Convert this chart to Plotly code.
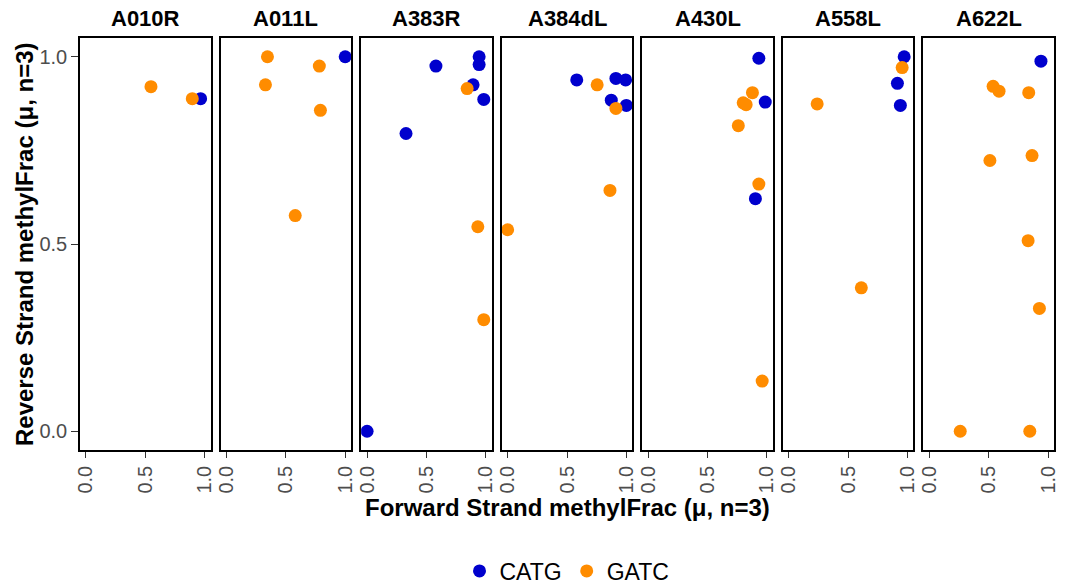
import plotly.graph_objects as go

samples = ["A010R", "A011L", "A383R", "A384dL", "A430L", "A558L", "A622L"]

pt_sample = (["A010R"] * 3 + ["A011L"] * 6 + ["A383R"] * 10 + ["A384dL"] * 9
             + ["A430L"] * 9 + ["A558L"] * 6 + ["A622L"] * 10)
pt_motif = (["GATC", "GATC", "CATG"]
            + ["GATC", "GATC", "GATC", "GATC", "GATC", "CATG"]
            + ["CATG", "CATG", "CATG", "CATG", "CATG", "GATC", "CATG", "GATC", "GATC", "CATG"]
            + ["CATG", "GATC", "CATG", "CATG", "CATG", "CATG", "GATC", "GATC", "GATC"]
            + ["CATG", "GATC", "GATC", "GATC", "CATG", "GATC", "GATC", "CATG", "GATC"]
            + ["CATG", "GATC", "CATG", "CATG", "GATC", "GATC"]
            + ["CATG", "GATC", "GATC", "GATC", "GATC", "GATC", "GATC", "GATC", "GATC", "GATC"])
pt_fwd = ([0.548, 0.896, 0.966]
          + [0.345, 0.328, 0.782, 0.791, 0.579, 1.0]
          + [0.58, 0.328, 0.944, 0.944, 0.893, 0.843, 0.983, 0.933, 0.983, 0.0]
          + [0.582, 0.754, 0.912, 0.994, 0.873, 1.0, 0.912, 0.862, 0.0]
          + [0.932, 0.878, 0.80, 0.825, 0.986, 0.759, 0.932, 0.903, 0.960]
          + [0.972, 0.955, 0.915, 0.940, 0.239, 0.611]
          + [0.94, 0.537, 0.587, 0.837, 0.865, 0.51, 0.832, 0.927, 0.26, 0.846])
pt_rev = ([0.920, 0.888, 0.888]
          + [1.0, 0.925, 0.975, 0.857, 0.576, 1.0]
          + [0.975, 0.795, 1.0, 0.979, 0.925, 0.915, 0.886, 0.546, 0.298, 0.0]
          + [0.938, 0.925, 0.942, 0.938, 0.884, 0.870, 0.862, 0.643, 0.538]
          + [0.996, 0.904, 0.877, 0.872, 0.879, 0.816, 0.660, 0.621, 0.134]
          + [1.0, 0.971, 0.929, 0.870, 0.874, 0.383]
          + [0.988, 0.921, 0.908, 0.904, 0.736, 0.723, 0.509, 0.328, 0.0, 0.0])

motifs = ["CATG", "GATC"]
motif_colors = {"CATG": "#0000CD", "GATC": "#FF8C00"}

tick_vals = [0.0, 0.5, 1.0]
tick_text = ["0.0", "0.5", "1.0"]

fig = go.Figure()

n = len(samples)
gap = 10.0 / 974.0
pw = (1.0 - gap * (n - 1)) / n

for i, s in enumerate(samples):
    ax = "" if i == 0 else str(i + 1)
    for m in motifs:
        xs = [f for f, ss, mm in zip(pt_fwd, pt_sample, pt_motif) if ss == s and mm == m]
        ys = [r for r, ss, mm in zip(pt_rev, pt_sample, pt_motif) if ss == s and mm == m]
        fig.add_trace(go.Scatter(
            x=xs, y=ys, mode="markers",
            marker=dict(color=motif_colors[m], size=13, line=dict(width=0)),
            name=m, legendgroup=m, showlegend=(i == 0),
            xaxis="x" + ax, yaxis="y" + ax,
        ))
    x0 = round(i * (pw + gap), 6)
    x1 = min(1.0, round(x0 + pw, 6))
    xa = dict(domain=[x0, x1], range=[-0.05, 1.05], tickvals=tick_vals, ticktext=tick_text,
              tickangle=-90, ticks="outside", ticklen=6, tickcolor="#333333", tickwidth=1,
              showline=True, linecolor="black", linewidth=1.5, mirror=True,
              showgrid=False, zeroline=False, automargin=False,
              tickfont=dict(family="Liberation Sans", size=20, color="#4D4D4D"),
              anchor="y" + ax)
    ya = dict(domain=[0, 1], range=[-0.05, 1.05], tickvals=tick_vals, ticktext=tick_text,
              ticks="outside" if i == 0 else "", ticklen=7, tickcolor="#333333", tickwidth=1,
              showticklabels=(i == 0),
              showline=True, linecolor="black", linewidth=1.5, mirror=True,
              showgrid=False, zeroline=False, automargin=False,
              tickfont=dict(family="Liberation Sans", size=20, color="#4D4D4D"),
              anchor="x" + ax)
    fig.layout["xaxis" + ax] = xa
    fig.layout["yaxis" + ax] = ya
    fig.add_annotation(x=(x0 + x1) / 2, y=1 + 19.0 / 412, xref="paper", yref="paper",
                       text="<b>" + s + "</b>", showarrow=False, xanchor="center", yanchor="middle",
                       font=dict(family="Liberation Sans", size=22, color="black"))

fig.add_annotation(x=0.5, y=-(507 - 450) / 412.0, xref="paper", yref="paper",
                   text="<b>Forward Strand methylFrac (μ, n=3)</b>", showarrow=False,
                   xanchor="center", yanchor="middle",
                   font=dict(family="Liberation Sans", size=24, color="black"))
fig.add_annotation(x=-(80 - 24) / 974.0, y=0.5, xref="paper", yref="paper",
                   text="<b>Reverse Strand methylFrac (μ, n=3)</b>", showarrow=False,
                   textangle=-90, xanchor="center", yanchor="middle",
                   font=dict(family="Liberation Sans", size=24, color="black"))

fig.update_layout(
    width=1068, height=585,
    margin=dict(l=80, r=14, t=38, b=135, autoexpand=False),
    paper_bgcolor="white", plot_bgcolor="white",
    showlegend=True,
    legend=dict(orientation="h", x=0.5, xanchor="center", xref="paper",
                y=1 - 571 / 585.0, yanchor="middle", yref="container",
                font=dict(family="Liberation Sans", size=23, color="black"),
                itemwidth=30, tracegroupgap=0),
)

fig.write_html("out.html")
